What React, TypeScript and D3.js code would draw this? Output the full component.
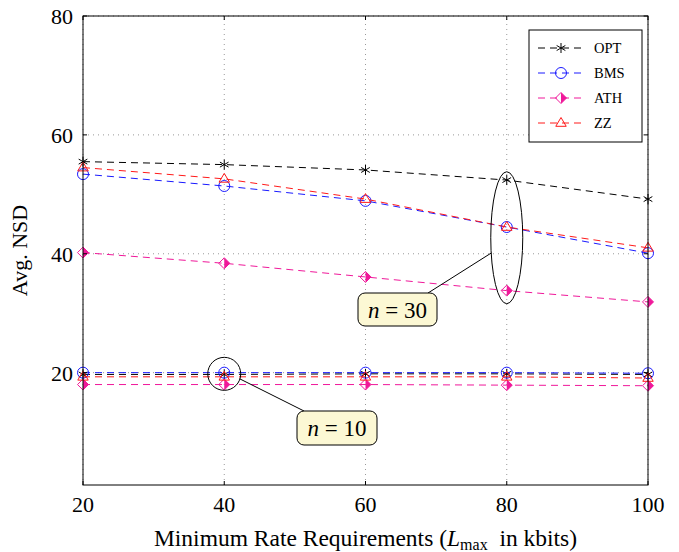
import React from 'react';
import * as d3 from 'd3';

const W = 679;
const H = 552;

const rates = [20, 40, 60, 80, 100];
const xTicks = [20, 40, 60, 80, 100];
const yTicks = [20, 40, 60, 80];

// n = 30
const opt30 = [55.5, 55.0, 54.1, 52.4, 49.2];
const bms30 = [53.4, 51.4, 48.9, 44.5, 40.1];
const ath30 = [40.2, 38.4, 36.1, 33.8, 31.9];
const zz30 = [54.5, 52.6, 49.2, 44.5, 41.0];

// n = 10
const opt10 = [19.7, 19.7, 19.8, 19.8, 19.7];
const bms10 = [20.0, 20.0, 20.0, 20.0, 19.9];
const ath10 = [18.0, 18.0, 18.0, 17.9, 17.8];
const zz10 = [19.3, 19.3, 19.3, 19.3, 19.1];

const seriesNames = ['OPT', 'BMS', 'ATH', 'ZZ'];
const colors = ['#000000', '#1a1aff', '#f0189a', '#ff1a1a'];
const markers = ['asterisk', 'circle', 'halfdiamond', 'triangle'];

const FONT = '"Liberation Serif", "DejaVu Serif", serif';

const margin = { left: 83, right: 31, top: 16, bottom: 67 };

function Marker({ type, color, x, y }: { type: string; color: string; x: number; y: number }) {
  if (type === 'asterisk') {
    const r = 5;
    const lines = [90, 30, -30].map((a) => {
      const rad = (a * Math.PI) / 180;
      return (
        <line key={a} x1={x - r * Math.cos(rad)} y1={y - r * Math.sin(rad)}
          x2={x + r * Math.cos(rad)} y2={y + r * Math.sin(rad)} stroke={color} strokeWidth={1} />
      );
    });
    return <g>{lines}</g>;
  }
  if (type === 'circle') {
    return <circle cx={x} cy={y} r={5.5} fill="none" stroke={color} strokeWidth={1} />;
  }
  if (type === 'halfdiamond') {
    const r = 5.5;
    return (
      <g>
        <path d={`M${x},${y - r}L${x + r},${y}L${x},${y + r}Z`} fill={color} />
        <path d={`M${x},${y - r}L${x + r},${y}L${x},${y + r}L${x - r},${y}Z`} fill="none" stroke={color} strokeWidth={1} />
      </g>
    );
  }
  const r = 5.5;
  return (
    <path d={`M${x},${y - r}L${x + r * 0.95},${y + r * 0.6}L${x - r * 0.95},${y + r * 0.6}Z`}
      fill="none" stroke={color} strokeWidth={1} />
  );
}

export default function App() {
  const x = d3.scaleLinear().domain([20, 100]).range([margin.left, W - margin.right]);
  const y = d3.scaleLinear().domain([1.1, 80]).range([H - margin.bottom, margin.top]);
  const line = d3.line<number>().x((_, i) => x(rates[i])).y((d) => y(d));

  const groups = [
    [opt30, bms30, ath30, zz30],
    [opt10, bms10, ath10, zz10],
  ];

  const [x0, x1] = x.range();
  const [y0, y1] = y.range();

  const ellCx = x(80);
  const ellCy = y(42.7);
  const circCx = x(40);
  const circCy = y(19.8);

  return (
    <svg width={W} height={H} style={{ position: 'absolute', left: 0, top: 0 }} fontFamily={FONT}>
      <rect width={W} height={H} fill="#fff" />
      {/* grid */}
      {xTicks.map((t) => (
        <line key={'gx' + t} x1={x(t)} x2={x(t)} y1={y0} y2={y1} stroke="#999" strokeWidth={1} strokeDasharray="1,4" />
      ))}
      {yTicks.map((t) => (
        <line key={'gy' + t} x1={x0} x2={x1} y1={y(t)} y2={y(t)} stroke="#999" strokeWidth={1} strokeDasharray="1,4" />
      ))}
      {/* series */}
      {groups.map((grp, gi) =>
        grp.map((vals, si) => (
          <g key={`s${gi}-${si}`}>
            <path d={line(vals) || ''} fill="none" stroke={colors[si]} strokeWidth={1} strokeDasharray="7,5" />
            {vals.map((v, i) => (
              <Marker key={i} type={markers[si]} color={colors[si]} x={x(rates[i])} y={y(v)} />
            ))}
          </g>
        ))
      )}
      {/* axes frame and ticks */}
      <rect x={x0} y={y1} width={x1 - x0} height={y0 - y1} fill="none" stroke="#000" strokeWidth={1} />
      {xTicks.map((t) => (
        <g key={'xt' + t}>
          <line x1={x(t)} x2={x(t)} y1={y0} y2={y0 - 4} stroke="#000" />
          <line x1={x(t)} x2={x(t)} y1={y1} y2={y1 + 4} stroke="#000" />
          <text x={x(t)} y={y0 + 27} textAnchor="middle" fontSize={22} fill="#000">{t}</text>
        </g>
      ))}
      {yTicks.map((t) => (
        <g key={'yt' + t}>
          <line x1={x0} x2={x0 + 4} y1={y(t)} y2={y(t)} stroke="#000" />
          <line x1={x1} x2={x1 - 4} y1={y(t)} y2={y(t)} stroke="#000" />
          <text x={x0 - 10} y={y(t) + 8} textAnchor="end" fontSize={22} fill="#000">{t}</text>
        </g>
      ))}
      {/* axis labels */}
      <text x={(x0 + x1) / 2} y={546} textAnchor="middle" fontSize={23.5} fill="#000">
        Minimum Rate Requirements (<tspan fontStyle="italic">L</tspan>
        <tspan fontSize={16} dy={4}>max</tspan>
        <tspan dy={-4}>{'\u00a0 in kbits)'}</tspan>
      </text>
      <text transform={`translate(27,${(y0 + y1) / 2}) rotate(-90)`} textAnchor="middle" fontSize={22} fill="#000">
        Avg. NSD
      </text>
      {/* annotations */}
      <ellipse cx={ellCx} cy={ellCy} rx={16} ry={66} fill="none" stroke="#000" strokeWidth={1} />
      <line x1={428} y1={293} x2={ellCx - 15.5} y2={253} stroke="#000" strokeWidth={1} />
      <rect x={358} y={293} width={79} height={33} rx={7} fill="#fcf8d4" stroke="#000" strokeWidth={1} />
      <text x={397.5} y={318} textAnchor="middle" fontSize={23} fill="#000">
        <tspan fontStyle="italic">n</tspan> = 30
      </text>
      <circle cx={circCx} cy={circCy} r={16.5} fill="none" stroke="#000" strokeWidth={1} />
      <line x1={circCx + 15.5} y1={circCy + 5} x2={304} y2={411} stroke="#000" strokeWidth={1} />
      <rect x={297} y={411} width={80} height={34} rx={7} fill="#fcf8d4" stroke="#000" strokeWidth={1} />
      <text x={337} y={436} textAnchor="middle" fontSize={23} fill="#000">
        <tspan fontStyle="italic">n</tspan> = 10
      </text>
      {/* legend */}
      <g>
        <rect x={529} y={30} width={113} height={112} fill="#fff" stroke="#000" strokeWidth={1} />
        {seriesNames.map((name, i) => {
          const ly = 48 + i * 25;
          return (
            <g key={name}>
              <line x1={538} x2={582} y1={ly} y2={ly} stroke={colors[i]} strokeWidth={1} strokeDasharray="7,5" strokeDashoffset={0} />
              <Marker type={markers[i]} color={colors[i]} x={561} y={ly} />
              <text x={594} y={ly + 5} fontSize={14.5} fill="#000">{name}</text>
            </g>
          );
        })}
      </g>
    </svg>
  );
}
